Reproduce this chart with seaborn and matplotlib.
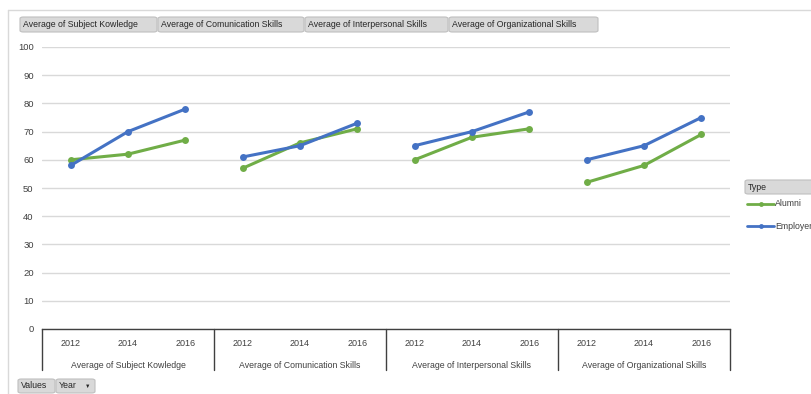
import numpy as np
import pandas as pd
import matplotlib
matplotlib.use("Agg")
import matplotlib.pyplot as plt
from matplotlib.patches import FancyBboxPatch
import seaborn as sns

# data
skills = ["Average of Subject Kowledge", "Average of Comunication Skills",
          "Average of Interpersonal Skills", "Average of Organizational Skills"]
years = ["2012", "2014", "2016"]
alumni = [[60, 62, 67], [57, 66, 71], [60, 68, 71], [52, 58, 69]]
employer = [[58, 70, 78], [61, 65, 73], [65, 70, 77], [60, 65, 75]]
types = ["Alumni", "Employer"]
yticks = [0, 10, 20, 30, 40, 50, 60, 70, 80, 90, 100]

GREEN = "#70AD47"
BLUE = "#4472C4"
TXT = "#404040"
W, H = 811, 394

rows = []
for g, skill in enumerate(skills):
    for i, yr in enumerate(years):
        pos = g * len(years) + i
        rows.append(dict(Skill=skill, Year=yr, pos=pos, Type="Alumni", value=alumni[g][i]))
        rows.append(dict(Skill=skill, Year=yr, pos=pos, Type="Employer", value=employer[g][i]))
df = pd.DataFrame(rows)

sns.set_style("white")
plt.rcParams["font.family"] = ["Liberation Sans", "DejaVu Sans"]

fig = plt.figure(figsize=(W / 100, H / 100), dpi=100)


def fx(x):
    return x / W


def fy(y):
    return 1 - y / H


ax = fig.add_axes([fx(42), fy(329), fx(730) - fx(42), fy(47) - fy(329)])
sns.lineplot(data=df, x="pos", y="value", hue="Type", units="Skill", estimator=None,
             palette={"Alumni": GREEN, "Employer": BLUE}, marker="o", markersize=5,
             markeredgewidth=0, linewidth=2.2, legend=False, ax=ax, zorder=3)

ax.set_xlim(-0.5, len(skills) * len(years) - 0.5)
ax.set_ylim(0, 100)
ax.set_yticks(yticks)
ax.set_xticks([])
ax.yaxis.grid(True, color="#d9d9d9", linewidth=1)
for s in ["top", "right", "left"]:
    ax.spines[s].set_visible(False)
ax.spines["bottom"].set_color("#404040")
ax.spines["bottom"].set_linewidth(1)
ax.tick_params(axis="y", length=0, labelsize=6.8, labelcolor=TXT, pad=6)
ax.set_xlabel("")
ax.set_ylabel("")

# category axis table
trans = ax.get_xaxis_transform()
n = len(years)
for g, skill in enumerate(skills):
    ax.plot([g * n - 0.5, g * n - 0.5], [0, -0.145], transform=trans, color="#404040",
            linewidth=1, clip_on=False)
    for i, yr in enumerate(years):
        ax.text(g * n + i, -0.05, yr, transform=trans, ha="center", va="center",
                fontsize=6.5, color=TXT)
    ax.text(g * n + 1, -0.128, skill, transform=trans, ha="center", va="center",
            fontsize=6.3, color=TXT)
ax.plot([len(skills) * n - 0.5] * 2, [0, -0.145], transform=trans, color="#404040",
        linewidth=1, clip_on=False)

# chart frame
fig.add_artist(plt.Line2D([fx(8), fx(811)], [fy(10), fy(10)], color="#d9d9d9", linewidth=1))
fig.add_artist(plt.Line2D([fx(8), fx(8)], [fy(10), fy(394)], color="#d9d9d9", linewidth=1))


def button(x0, x1, y0, y1, label, arrow=False):
    box = FancyBboxPatch((fx(x0), fy(y1)), fx(x1) - fx(x0), fy(y0) - fy(y1),
                         boxstyle="round,pad=0,rounding_size=0.004",
                         facecolor="#d9d9d9", edgecolor="#bfbfbf", linewidth=0.8,
                         transform=fig.transFigure)
    fig.add_artist(box)
    fig.text(fx(x0 + 3), fy((y0 + y1) / 2), label, ha="left", va="center",
             fontsize=6.3, color="#262626")
    if arrow:
        fig.text(fx(x1 - 5), fy((y0 + y1) / 2), "\u25bc", ha="right", va="center",
                 fontsize=4, color="#262626")


tops = [(20, 157), (158, 304), (305, 448), (449, 598)]
for (x0, x1), skill in zip(tops, skills):
    button(x0, x1, 17, 32, skill)
button(18, 55, 379, 393, "Values")
button(56, 95, 379, 393, "Year", arrow=True)
button(745, 815, 180, 194, "Type")

# legend
for label, color, y in [("Alumni", GREEN, 204), ("Employer", BLUE, 226)]:
    fig.add_artist(plt.Line2D([fx(747), fx(774)], [fy(y), fy(y)], color=color, linewidth=2))
    fig.add_artist(plt.Line2D([fx(760.5)], [fy(y)], color=color, marker="o", markersize=3.5,
                              markeredgewidth=0))
    fig.text(fx(775), fy(y), label, ha="left", va="center", fontsize=6.3, color=TXT)

fig.savefig("out.png", dpi=100)
